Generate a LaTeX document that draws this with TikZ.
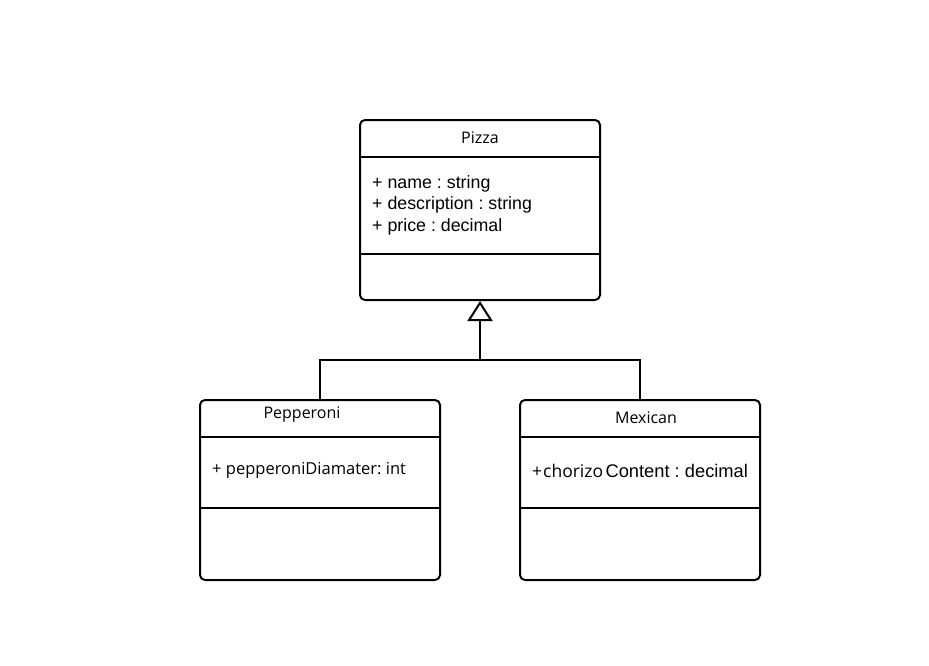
\documentclass[tikz,border=0pt]{standalone}
\usepackage{fontspec}
\setmainfont{Liberation Sans}
\newfontfamily\hdfont{Open Sans}
\usetikzlibrary{arrows.meta}
\frenchspacing
\tikzset{
  classbox/.style={draw, line width=2pt, rounded corners=5pt, minimum width=240pt, minimum height=180pt, inner sep=0pt},
  divider/.style={line width=2pt},
  conn/.style={line width=2pt},
  title/.style={font=\hdfont\fontsize{16}{19}\selectfont, inner sep=0pt},
  attr/.style={font=\fontsize{17.8}{20}\selectfont, inner sep=0pt, anchor=base west},
  attrs/.style={font=\hdfont\fontsize{16.5}{19}\selectfont, inner sep=0pt, anchor=base west}
}
\begin{document}
\begin{tikzpicture}[x=1pt,y=-1pt]
\useasboundingbox (0,0) rectangle (929,665);
\node[classbox] (pizza) at (480,210) {};
\node[classbox] (pep) at (320,490) {};
\node[classbox] (mex) at (640,490) {};
\draw[divider] ([yshift=-38pt]pizza.north west) -- ([yshift=-38pt]pizza.north east);
\draw[divider] ([yshift=-135pt]pizza.north west) -- ([yshift=-135pt]pizza.north east);
\draw[divider] ([yshift=-38pt]pep.north west) -- ([yshift=-38pt]pep.north east);
\draw[divider] ([yshift=-109pt]pep.north west) -- ([yshift=-109pt]pep.north east);
\draw[divider] ([yshift=-38pt]mex.north west) -- ([yshift=-38pt]mex.north east);
\draw[divider] ([yshift=-109pt]mex.north west) -- ([yshift=-109pt]mex.north east);
\node[title] (ptitle) at (480,138) {Pizza};
\node[attr] (a1) at (372,188) {+ name : string};
\node[attr] (a2) at (372,209.5) {+ description : string};
\node[attr] (a3) at (372,231) {+ price : decimal};
\node[title] (peptitle) at (302,415) {Pepperoni};
\node[attrs] (pa) at (212,474) {+ pepperoniDiamater: int};
\node[title] (mextitle) at (646,418) {Mexican};
\node[attrs, font=\hdfont\fontsize{17.5}{20}\selectfont] (ma1) at (532,477) {+\kern1pt chorizo};
\node[attr, font=\fontsize{18.3}{20}\selectfont] (ma2) at ([xshift=2pt]ma1.base east) {Content : decimal};
\coordinate (j) at (480,360);
\draw[conn] (pep.north) |- (j) -| (mex.north);
\draw[conn, -{Triangle[open, length=20pt, width=25pt, line width=2pt]}] (j) -- (pizza.south);
\end{tikzpicture}
\end{document}
